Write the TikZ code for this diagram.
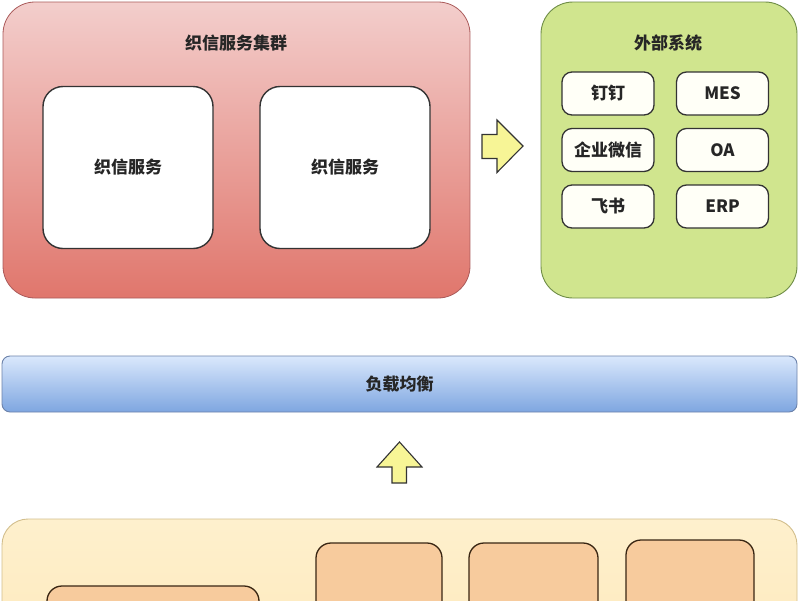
\documentclass[tikz,border=0pt]{standalone}
\usepackage{fontspec}
\setmainfont{Noto Sans CJK SC}
\begin{document}
\begin{tikzpicture}[x=1pt,y=-1pt,
  every node/.style={font=\fontsize{17}{19}\selectfont\bfseries, text=black!85},
  boxbase/.style={rectangle, inner sep=0pt, anchor=center},
  redgroup/.style={boxbase, draw=redline, line width=0.8pt, rounded corners=32pt, top color=redtop, bottom color=redbot},
  greengroup/.style={boxbase, draw=greenline, line width=0.9pt, rounded corners=32pt, fill=greenfill},
  whitebox/.style={boxbase, draw=black!80, line width=1.4pt, fill=white, rounded corners=20pt},
  smallbox/.style={boxbase, draw=black!80, line width=1.3pt, fill=white!97!yellow, rounded corners=10pt, minimum width=92pt, minimum height=43pt},
  bluebar/.style={boxbase, draw=blueline, line width=0.9pt, rounded corners=8pt, top color=bluetop, bottom color=bluebot},
  yellowgroup/.style={boxbase, draw=yellowline, line width=0.9pt, rounded corners=26pt, top color=yeltop, bottom color=yelbot},
  orangebox/.style={boxbase, draw=black!70!brown, line width=1.3pt, rounded corners=15pt, fill=orangefill},
  blockarrow/.style={draw=black!80, line width=1.1pt, fill=arrowfill, line join=miter},
  titletext/.style={font=\fontsize{17}{19}\selectfont\bfseries}
]
\definecolor{redtop}{RGB}{243,206,204}
\definecolor{redbot}{RGB}{224,118,108}
\definecolor{redline}{RGB}{170,90,90}
\definecolor{greenfill}{RGB}{208,229,142}
\definecolor{greenline}{RGB}{110,140,70}
\definecolor{bluetop}{RGB}{218,232,252}
\definecolor{bluebot}{RGB}{126,166,224}
\definecolor{blueline}{RGB}{108,130,170}
\definecolor{yeltop}{RGB}{254,240,205}
\definecolor{yelbot}{RGB}{253,232,185}
\definecolor{yellowline}{RGB}{210,190,140}
\definecolor{orangefill}{RGB}{247,203,157}
\definecolor{arrowfill}{RGB}{247,245,150}

\useasboundingbox (0,0) rectangle (800,600);
\clip (0,0) rectangle (800,600);

% cluster
\node[redgroup, minimum width=467pt, minimum height=296pt] (cluster) at (236.5,150) {};
\node[titletext] (clustertitle) at (236,43) {织信服务集群};
\node[whitebox, minimum width=170pt, minimum height=162pt] (svc1) at (128,167.5) {织信服务};
\node[whitebox, minimum width=170pt, minimum height=162pt] (svc2) at (345,167.5) {织信服务};

% external systems
\node[greengroup, minimum width=256pt, minimum height=296pt] (ext) at (669,150) {};
\node[titletext] (exttitle) at (668,43) {外部系统};
\node[smallbox] (dd) at (608,93.5) {钉钉};
\node[smallbox] (mes) at (722.5,93.5) {MES};
\node[smallbox] (wx) at (608,150) {企业微信};
\node[smallbox] (oa) at (722.5,150) {OA};
\node[smallbox] (fs) at (608,206.5) {飞书};
\node[smallbox] (erp) at (722.5,206.5) {ERP};

% right block arrow
\draw[blockarrow] (482,134.5) -- (497,134.5) -- (497,120) -- (523,146) -- (497,172.5) -- (497,158.5) -- (482,158.5) -- cycle;

% load balancer
\node[bluebar, minimum width=795pt, minimum height=56pt] (lb) at (399.5,384) {负载均衡};

% up block arrow
\draw[blockarrow] (392,483) -- (392,467) -- (377,467) -- (399.5,442) -- (422,467) -- (406.5,467) -- (406.5,483) -- cycle;

% bottom group
\node[yellowgroup, minimum width=795pt, minimum height=170pt] (bottom) at (399.5,604) {};
\node[orangebox, minimum width=212pt, minimum height=110pt] (bl) at (153,641) {};
\node[orangebox, minimum width=126pt, minimum height=120pt] (ba) at (379,603) {};
\node[orangebox, minimum width=129pt, minimum height=120pt] (bb) at (533.5,603) {};
\node[orangebox, minimum width=128pt, minimum height=120pt] (bc) at (690,600) {};
\end{tikzpicture}
\end{document}
